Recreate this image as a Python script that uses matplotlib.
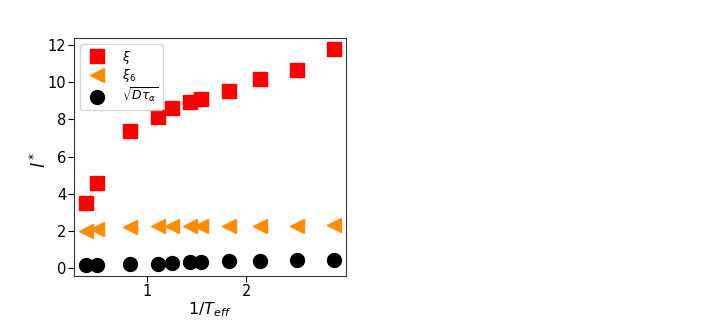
import numpy as np
import matplotlib.pyplot as plt

# inverse effective temperature
inv_T = [0.39, 0.495, 0.83, 1.115, 1.25, 1.43, 1.54, 1.825, 2.135, 2.51, 2.88]

xi = [3.5, 4.55, 7.35, 8.15, 8.6, 8.95, 9.1, 9.55, 10.15, 10.65, 11.8]
xi6 = [2.0, 2.12, 2.2, 2.24, 2.24, 2.25, 2.25, 2.25, 2.27, 2.27, 2.3]
diff_len = [0.15, 0.16, 0.2, 0.23, 0.26, 0.3, 0.32, 0.38, 0.4, 0.42, 0.44]

fig = plt.figure(figsize=(7.06, 3.2), dpi=100)
ax = fig.add_axes([74/706, 1-276/320, 272/706, 238/320])

ax.plot(inv_T, xi, 's', color='red', ms=10, label=r'$\xi$')
ax.plot(inv_T, xi6, '<', color='darkorange', ms=10, label=r'$\xi_6$')
ax.plot(inv_T, diff_len, 'o', color='black', ms=10, label=r'$\sqrt{D\tau_\alpha}$')

ax.set_xlabel(r'$1/T_{eff}$', fontsize=11.5, labelpad=1)
ax.set_ylabel(r'$l^*$', fontsize=12.5)
ax.yaxis.set_label_coords(-0.09, 0.49)
ax.set_yticks([0, 2, 4, 6, 8, 10, 12])
ax.set_xticks([1, 2])
ax.tick_params(labelsize=10.5, length=4, pad=1.5)
for s in ax.spines.values():
    s.set_color('#333333')

ax.legend(loc='upper left', fontsize=9, borderaxespad=0.5, labelspacing=0.15,
          handletextpad=1.0, borderpad=0.35)

fig.savefig('out.png', dpi=100)
